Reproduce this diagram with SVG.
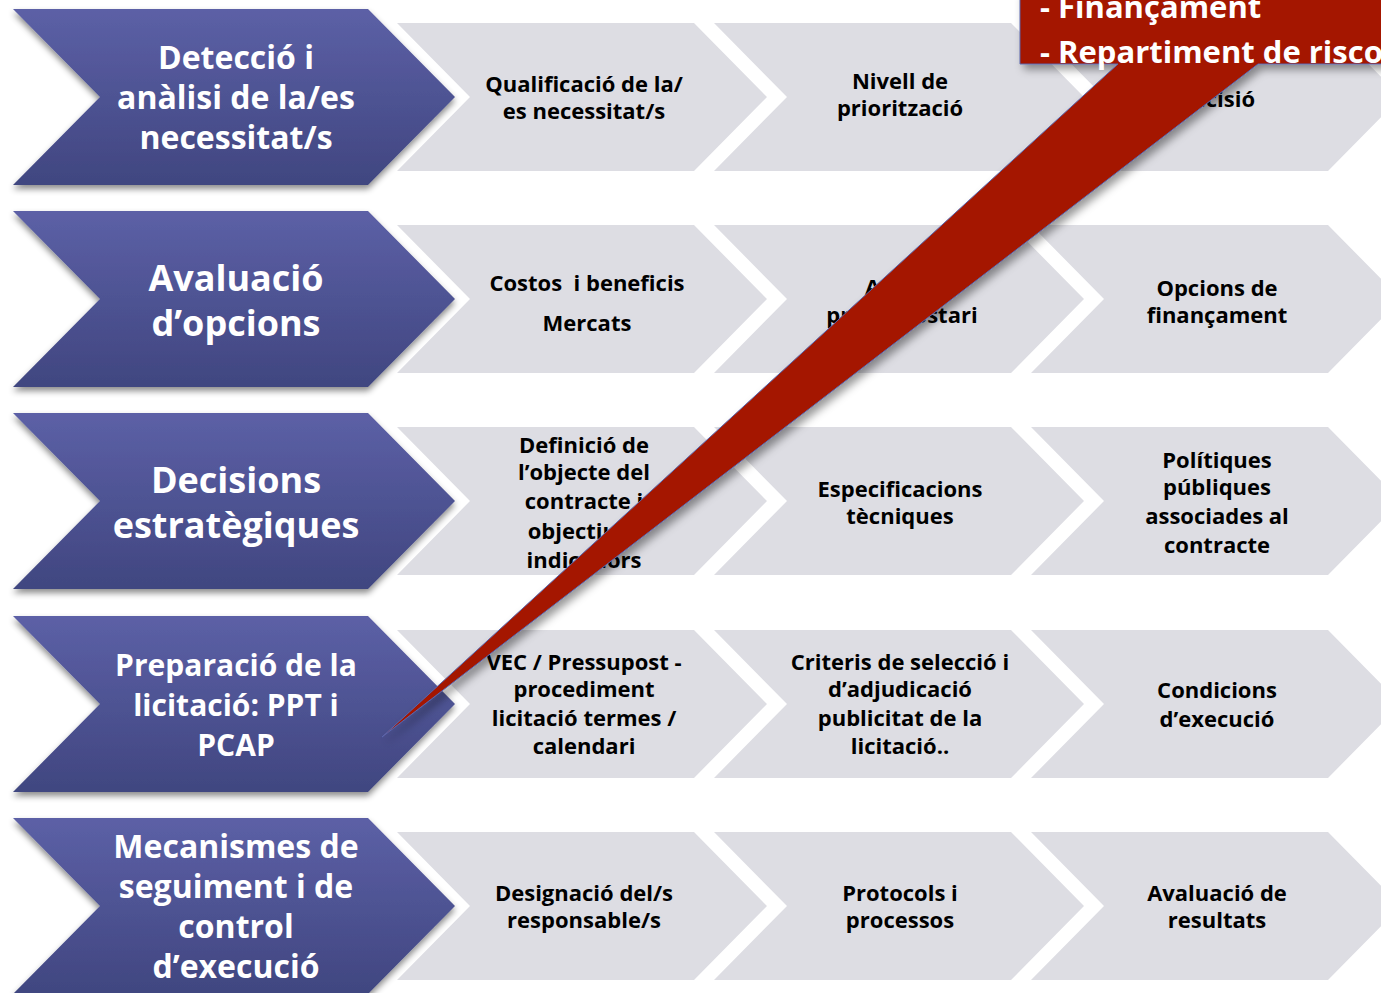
<svg xmlns="http://www.w3.org/2000/svg" width="1381" height="993" viewBox="0 0 1381 993">
<defs>
<linearGradient id="gb" x1="0" y1="0" x2="0" y2="1">
<stop offset="0" stop-color="#5c60a6"/>
<stop offset="1" stop-color="#404680"/>
</linearGradient>
<filter id="sh" x="-10%" y="-10%" width="120%" height="130%">
<feDropShadow dx="0" dy="4" stdDeviation="3" flood-color="#000" flood-opacity="0.45"/>
</filter>
<filter id="shr" x="-10%" y="-10%" width="130%" height="130%">
<feDropShadow dx="4" dy="5" stdDeviation="4" flood-color="#000" flood-opacity="0.4"/>
</filter>
<path id="bchev" d="M13,-88 H368 L455,0 L368,88 H13 L100,0 Z"/>
<path id="gchev" d="M0,-74 H297 L370,0 L297,74 H0 L73,0 Z"/>
</defs>
<style>
.blue{fill:url(#gb);filter:url(#sh)}
.grey{fill:#dddde3}
.tb{font-family:"Open Sans","Liberation Sans",sans-serif;font-weight:700;fill:#fff;text-anchor:middle}
.tg{font-family:"Open Sans","Liberation Sans",sans-serif;font-weight:700;font-size:22px;fill:#000;text-anchor:middle;white-space:pre}
.tr{font-family:"Open Sans","Liberation Sans",sans-serif;font-weight:700;font-size:31px;fill:#fff}
</style>
<rect width="1381" height="993" fill="#fff"/>

<!-- Row 1 -->
<g id="r1c1"><use href="#gchev" x="397" y="97" class="grey"/><text class="tg" x="584" y="92">Qualificació de la/</text><text class="tg" x="584" y="119">es necessitat/s</text></g>
<g id="r1c2"><use href="#gchev" x="714" y="97" class="grey"/><text class="tg" x="900" y="89">Nivell de</text><text class="tg" x="900" y="116">priorització</text></g>
<g id="r1c3"><use href="#gchev" x="1031" y="97" class="grey"/><text class="tg" x="1217" y="107">decisió</text></g>
<g id="r1"><use href="#bchev" x="0" y="97" class="blue"/><text class="tb" font-size="32" x="236" y="69">Detecció i</text><text class="tb" font-size="32" x="236" y="109">anàlisi de la/es</text><text class="tb" font-size="32" x="236" y="149">necessitat/s</text></g>

<!-- Row 2 -->
<g id="r2c1"><use href="#gchev" x="397" y="299" class="grey"/><text class="tg" x="587" y="291">Costos  i beneficis</text><text class="tg" x="587" y="331">Mercats</text></g>
<g id="r2c2"><use href="#gchev" x="714" y="299" class="grey"/><text class="tg" x="902" y="295">Anàlisi</text><text class="tg" x="902" y="323">pressupostari</text></g>
<g id="r2c3"><use href="#gchev" x="1031" y="299" class="grey"/><text class="tg" x="1217" y="296">Opcions de</text><text class="tg" x="1217" y="323">finançament</text></g>
<g id="r2"><use href="#bchev" x="0" y="299" class="blue"/><text class="tb" font-size="36" x="236" y="291">Avaluació</text><text class="tb" font-size="36" x="236" y="336">d’opcions</text></g>

<!-- Row 3 -->
<g id="r3c1"><use href="#gchev" x="397" y="501" class="grey"/><text class="tg" x="584" y="453">Definició de</text><text class="tg" x="584" y="480">l’objecte del</text><text class="tg" x="584" y="509">contracte i</text><text class="tg" x="584" y="539">objectius i</text><text class="tg" x="584" y="568">indicadors</text></g>
<g id="r3c2"><use href="#gchev" x="714" y="501" class="grey"/><text class="tg" x="900" y="497">Especificacions</text><text class="tg" x="900" y="524">tècniques</text></g>
<g id="r3c3"><use href="#gchev" x="1031" y="501" class="grey"/><text class="tg" x="1217" y="468">Polítiques</text><text class="tg" x="1217" y="495">públiques</text><text class="tg" x="1217" y="524">associades al</text><text class="tg" x="1217" y="553">contracte</text></g>
<g id="r3"><use href="#bchev" x="0" y="501" class="blue"/><text class="tb" font-size="36" x="236" y="493">Decisions</text><text class="tb" font-size="36" x="236" y="538">estratègiques</text></g>

<!-- Row 4 -->
<g id="r4c1"><use href="#gchev" x="397" y="704" class="grey"/><text class="tg" x="584" y="670">VEC / Pressupost -</text><text class="tg" x="584" y="697">procediment</text><text class="tg" x="584" y="726">licitació termes /</text><text class="tg" x="584" y="754">calendari</text></g>
<g id="r4c2"><use href="#gchev" x="714" y="704" class="grey"/><text class="tg" x="900" y="670">Criteris de selecció i</text><text class="tg" x="900" y="697">d’adjudicació</text><text class="tg" x="900" y="726">publicitat de la</text><text class="tg" x="900" y="754">licitació..</text></g>
<g id="r4c3"><use href="#gchev" x="1031" y="704" class="grey"/><text class="tg" x="1217" y="698">Condicions</text><text class="tg" x="1217" y="727">d’execució</text></g>
<g id="r4"><use href="#bchev" x="0" y="704" class="blue"/><text class="tb" font-size="30" x="236" y="676">Preparació de la</text><text class="tb" font-size="30" x="236" y="716">licitació: PPT i</text><text class="tb" font-size="30" x="236" y="756">PCAP</text></g>

<!-- Row 5 -->
<g id="r5c1"><use href="#gchev" x="397" y="906" class="grey"/><text class="tg" x="584" y="901">Designació del/s</text><text class="tg" x="584" y="928">responsable/s</text></g>
<g id="r5c2"><use href="#gchev" x="714" y="906" class="grey"/><text class="tg" x="900" y="901">Protocols i</text><text class="tg" x="900" y="928">processos</text></g>
<g id="r5c3"><use href="#gchev" x="1031" y="906" class="grey"/><text class="tg" x="1217" y="901">Avaluació de</text><text class="tg" x="1217" y="928">resultats</text></g>
<g id="r5"><use href="#bchev" x="0" y="906" class="blue"/><text class="tb" font-size="32" x="236" y="858">Mecanismes de</text><text class="tb" font-size="32" x="236" y="898">seguiment i de</text><text class="tb" font-size="32" x="236" y="938">control</text><text class="tb" font-size="32" x="236" y="978">d’execució</text></g>

<!-- Callout -->
<g id="callout">
<path d="M1020,-10 H1400 V64 H1258 L382,737 L1118,64 H1020 Z" fill="#a41600" stroke="#5a67ad" stroke-width="1" filter="url(#shr)"/>
<text class="tr" x="1040" y="18">- Finançament</text>
<text class="tr" x="1040" y="63">- Repartiment de risco</text>
</g>
</svg>
